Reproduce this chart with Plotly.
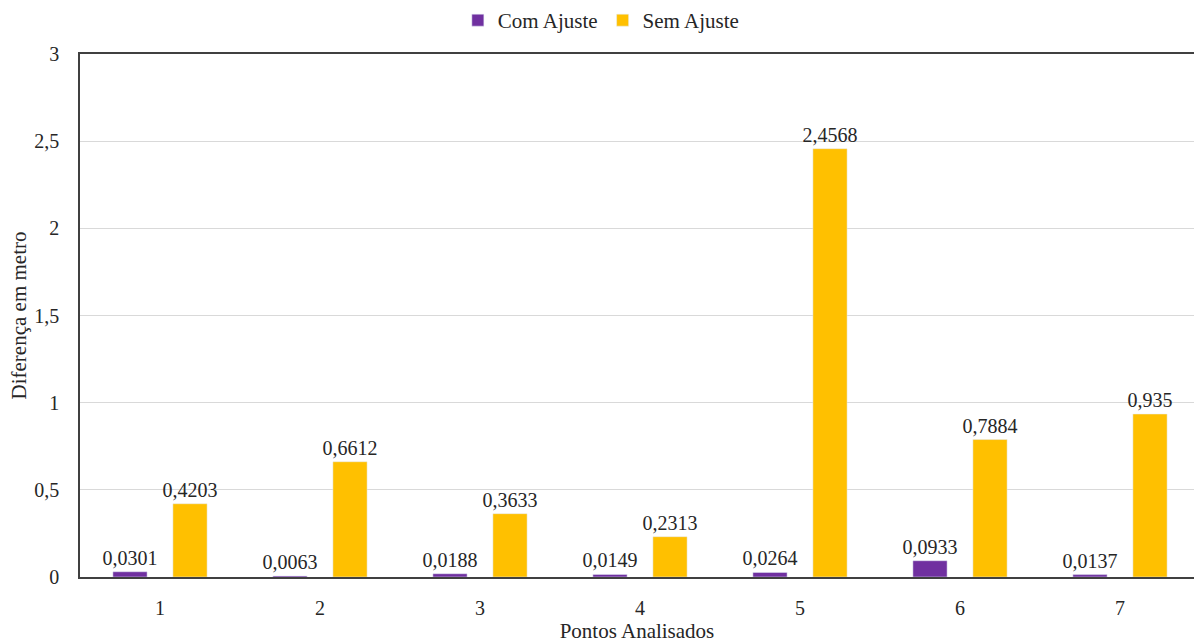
import plotly.graph_objects as go

pontos = ["1", "2", "3", "4", "5", "6", "7"]
com_ajuste = [0.0301, 0.0063, 0.0188, 0.0149, 0.0264, 0.0933, 0.0137]
sem_ajuste = [0.4203, 0.6612, 0.3633, 0.2313, 2.4568, 0.7884, 0.935]
y_ticks = [0, 0.5, 1, 1.5, 2, 2.5, 3]

FONT = "'Times New Roman', 'Liberation Serif', 'DejaVu Serif', serif"
TXT = "#262626"


def fmt(v):
    return str(v).replace(".", ",")


fig = go.Figure()
fig.add_trace(go.Bar(
    name="Com Ajuste", x=pontos, y=com_ajuste,
    marker_color="#7030A0",
    text=[fmt(v) for v in com_ajuste], textposition="outside",
    constraintext="none",
    textfont=dict(family=FONT, size=20, color=TXT), cliponaxis=False,
))
fig.add_trace(go.Bar(
    name="Sem Ajuste", x=pontos, y=sem_ajuste,
    marker_color="#FFC000",
    text=[fmt(v) for v in sem_ajuste], textposition="outside",
    constraintext="none",
    textfont=dict(family=FONT, size=20, color=TXT), cliponaxis=False,
))

fig.update_layout(
    width=1194, height=643,
    margin=dict(l=80, r=0, t=52, b=66),
    paper_bgcolor="white", plot_bgcolor="white",
    font=dict(family=FONT, size=20, color=TXT),
    separators=",.",
    barmode="group", bargap=0.25, bargroupgap=0.43,
    showlegend=True,
    legend=dict(orientation="h", x=0.468, xanchor="center", y=1.065, yanchor="middle",
                font=dict(family=FONT, size=21, color=TXT), itemwidth=30,
                traceorder="normal"),
)
fig.update_xaxes(
    type="category", range=[-0.5, 6.4625],
    showline=True, linecolor="#404040", linewidth=1.5, mirror=True,
    showgrid=False, ticks="", ticklabelstandoff=12,
    tickfont=dict(family=FONT, size=20, color=TXT),
    title=dict(text="Pontos Analisados", standoff=6,
               font=dict(family=FONT, size=21, color=TXT)),
)
fig.update_yaxes(
    range=[0, 3], tickvals=y_ticks,
    ticktext=[fmt(v) for v in y_ticks],
    showline=True, linecolor="#404040", linewidth=1.5, mirror=False,
    showgrid=True, gridcolor="#d9d9d9", gridwidth=1, zeroline=False,
    ticks="", ticklabelstandoff=15,
    tickfont=dict(family=FONT, size=20, color=TXT),
    title=dict(text="Diferença em metro", standoff=2,
               font=dict(family=FONT, size=21, color=TXT)),
)

fig.write_html("out.html")
